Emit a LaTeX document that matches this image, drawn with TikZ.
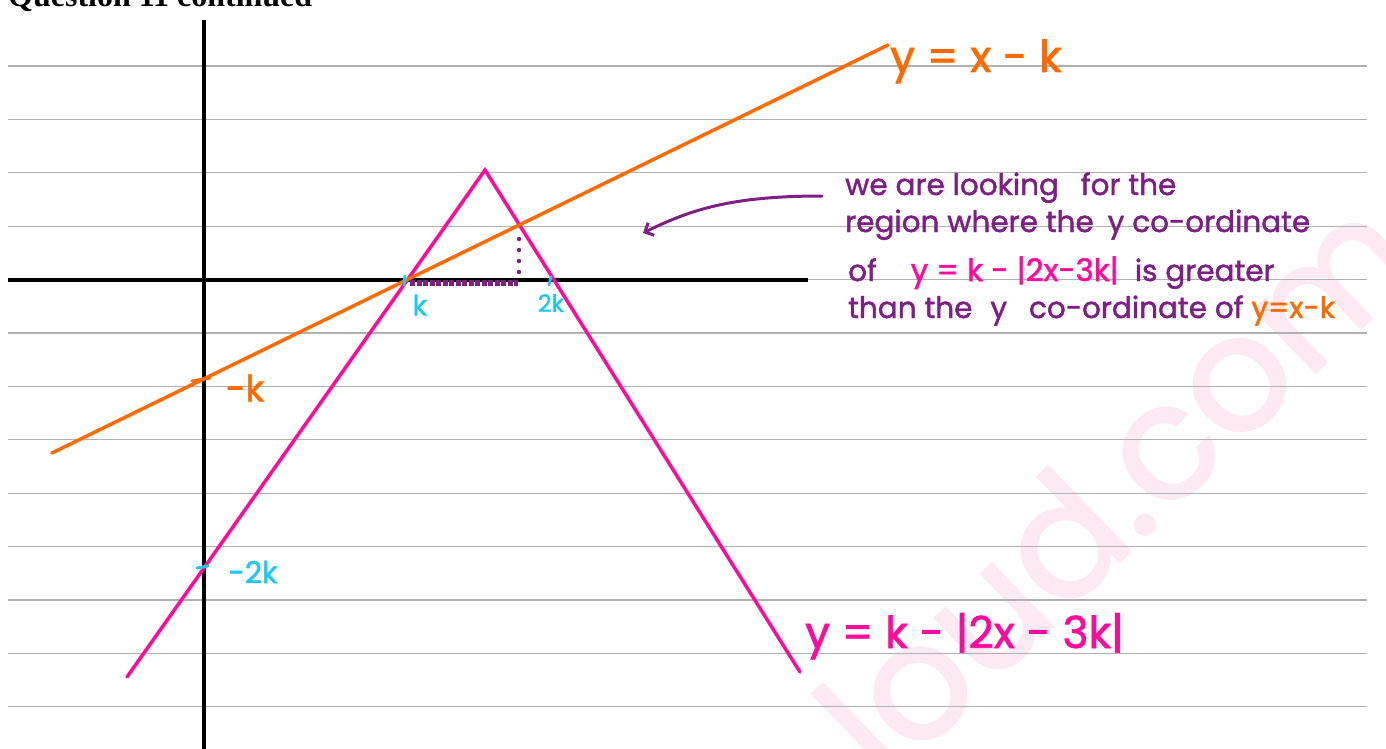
\documentclass[tikz,border=0pt]{standalone}
\usepackage{fontspec}
\setmainfont{Liberation Serif}
\newfontfamily\hand[FakeBold=1.6]{Poppins}
\usetikzlibrary{arrows.meta}
\definecolor{rulegray}{HTML}{B0B0B0}
\definecolor{lineorange}{HTML}{FF6A00}
\definecolor{linepink}{HTML}{FF0A9C}
\definecolor{markcyan}{HTML}{20C8F0}
\definecolor{notepurple}{HTML}{7E1F86}
\definecolor{wmpink}{HTML}{FDE9F2}
\begin{document}
\begin{tikzpicture}[x=1pt,y=-1pt,
    rule/.style={rulegray,line width=1.2pt},
    axis/.style={black,line width=3.5pt},
    graph/.style={line width=3.5pt,line cap=round},
    tick/.style={markcyan,line width=3pt,line cap=round},
    hw/.style={font=\hand\fontsize{29.5}{32}\selectfont,inner sep=0pt,anchor=base west,notepurple},
    big/.style={font=\hand\fontsize{44}{44}\selectfont,inner sep=0pt,anchor=base west}]
    \useasboundingbox (0,0) rectangle (1386,749);
    \clip (0,0) rectangle (1386,749);
    \node[wmpink,rotate=44,font=\hand\fontsize{160}{160}\selectfont] (wm) at (1115,485) {loud.com};
    \foreach \i in {0,...,12} {
            \draw[rule] (8,{66+53.4*\i}) -- (1367,{66+53.4*\i});
        }
    \node[font=\bfseries\fontsize{32}{32}\selectfont,anchor=base west,inner sep=0pt] (title) at (8,7) {Question 11 continued};
    \draw[axis] (8,280) -- (808,280);
    \draw[axis] (204,20) -- (204,749);
    \coordinate (pL) at (127,677);
    \coordinate (pT) at (485,170);
    \coordinate (pR) at (800,672);
    \coordinate (oL) at (52,453);
    \coordinate (oR) at (888,45);
    \draw[graph,linepink] (pL) -- (pT) -- (pR);
    \draw[graph,lineorange] (oL) -- (oR);
    \draw[notepurple,line width=5.5pt,dash pattern=on 5pt off 1.5pt] (410,283) -- (518,283);
    \draw[notepurple,line width=4.5pt,line cap=round,dash pattern=on 0pt off 11pt] (519,239) -- (519,283);
    \draw[tick] (405,276) -- (404,285);
    \draw[tick] (551,277) -- (549,285);
    \draw[tick] (197,568) -- (208,566);
    \draw[lineorange,line width=3pt,line cap=round] (192,381) -- (210,378);
    \node[lineorange,font=\hand\fontsize{36}{36}\selectfont] (negk) at (245,388) {-k};
    \node[markcyan,font=\hand\fontsize{30}{30}\selectfont] (negtwok) at (253,572) {-2k};
    \node[markcyan,font=\hand\fontsize{28}{28}\selectfont] (kx) at (420,305) {k};
    \node[markcyan,font=\hand\fontsize{24}{24}\selectfont] (twok) at (551,303) {2k};
    \node[big,lineorange] (orangelab) at (890,72) {y = x - k};
    \node[big,linepink] (pinklab) at (805,648) {y = k - |2x - 3k|};
    \node[hw] (lineA) at (845,195) {we are looking\hspace{22pt}for the};
    \node[hw] (lineB) at (845,232) {region where the\hspace{14pt}y co-ordinate};
    \node[hw] (lineC) at (848,281) {of\hspace{34pt}\textcolor{linepink}{\fontsize{31}{32}\selectfont y = k - |2x-3k|}\hspace{16pt}is greater};
    \node[hw] (lineD) at (848,318) {than the\hspace{18pt}y\hspace{22pt}co-ordinate of\hspace{8pt}\textcolor{lineorange}{y=x-k}};
    \coordinate (arrS) at (822,196);
    \coordinate (arrE) at (643,233);
    \draw[notepurple,line width=3pt,line cap=round,-{Straight Barb[length=7pt,width=14pt]}] (arrS) .. controls (730,196) and (690,210) .. (arrE);
\end{tikzpicture}
\end{document}
